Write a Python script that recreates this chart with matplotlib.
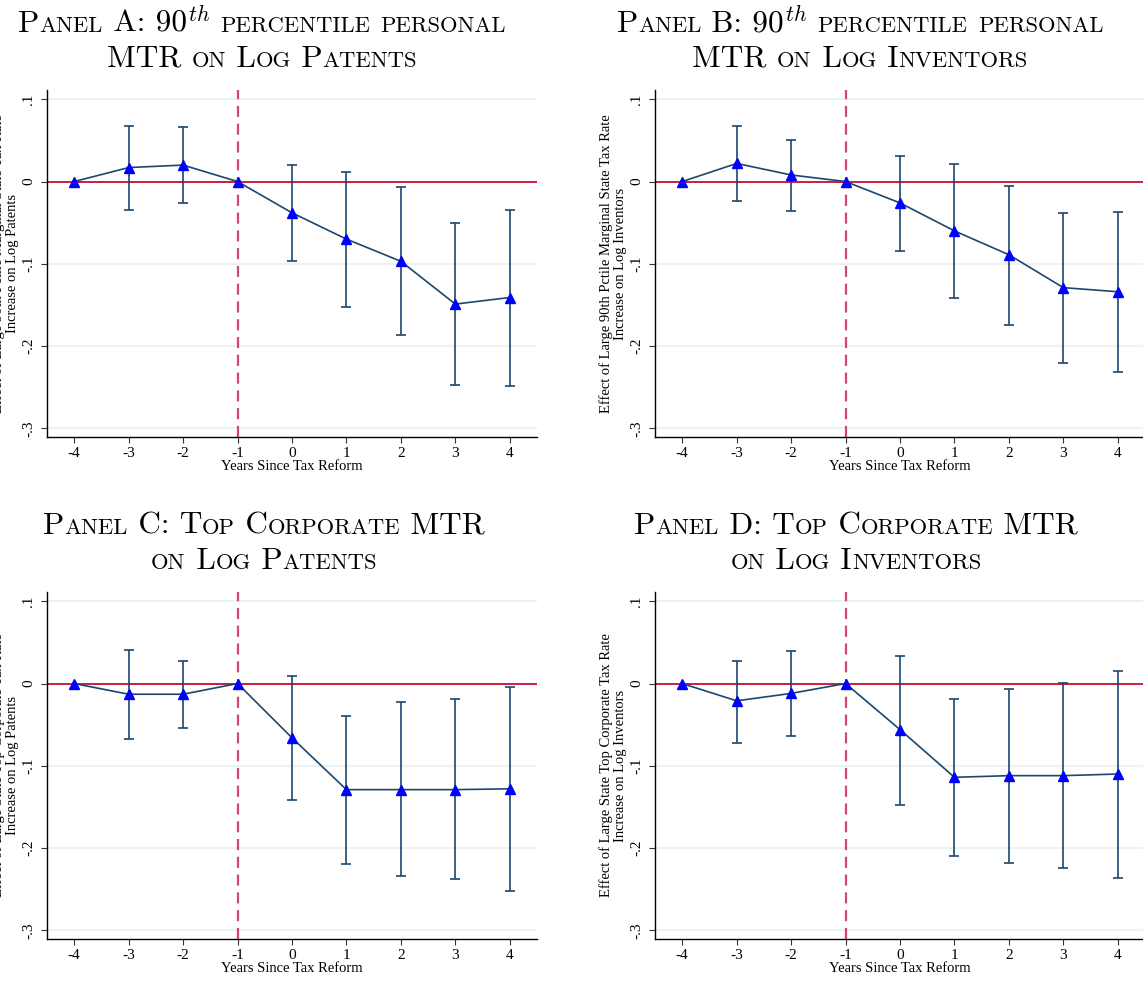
import re
import matplotlib
matplotlib.use("Agg")
import matplotlib.pyplot as plt
from matplotlib.offsetbox import TextArea, HPacker, VPacker, AnnotationBbox

plt.rcParams['font.family'] = ['Liberation Serif', 'DejaVu Serif']
plt.rcParams['mathtext.fontset'] = 'cm'

years = [-4, -3, -2, -1, 0, 1, 2, 3, 4]

# Panel A: 90th pctile personal MTR on log patents
coef_a = [0.0, 0.017, 0.020, 0.0, -0.038, -0.070, -0.097, -0.149, -0.141]
lo_a = [0.0, -0.034, -0.026, 0.0, -0.097, -0.152, -0.187, -0.247, -0.248]
hi_a = [0.0, 0.067, 0.066, 0.0, 0.020, 0.011, -0.007, -0.051, -0.034]

# Panel B: 90th pctile personal MTR on log inventors
coef_b = [0.0, 0.022, 0.008, 0.0, -0.026, -0.060, -0.089, -0.129, -0.134]
lo_b = [0.0, -0.024, -0.036, 0.0, -0.085, -0.141, -0.175, -0.221, -0.231]
hi_b = [0.0, 0.067, 0.051, 0.0, 0.031, 0.021, -0.005, -0.038, -0.037]

# Panel C: top corporate MTR on log patents
coef_c = [0.0, -0.013, -0.013, 0.0, -0.066, -0.129, -0.129, -0.129, -0.128]
lo_c = [0.0, -0.068, -0.054, 0.0, -0.142, -0.219, -0.234, -0.238, -0.252]
hi_c = [0.0, 0.041, 0.028, 0.0, 0.009, -0.040, -0.023, -0.019, -0.004]

# Panel D: top corporate MTR on log inventors
coef_d = [0.0, -0.021, -0.012, 0.0, -0.056, -0.114, -0.112, -0.112, -0.110]
lo_d = [0.0, -0.072, -0.064, 0.0, -0.148, -0.210, -0.218, -0.224, -0.236]
hi_d = [0.0, 0.028, 0.039, 0.0, 0.034, -0.019, -0.007, 0.001, 0.015]

yticks = [0.1, 0.0, -0.1, -0.2, -0.3]
ytick_labels = ['.1', '0', '-.1', '-.2', '-.3']

panels = [
    (coef_a, lo_a, hi_a,
     "Effect of Large 90th Pctile Marginal State Tax Rate\nIncrease on Log Patents",
     ["Panel A: 90$^{th}$ percentile personal", "MTR on Log Patents"]),
    (coef_b, lo_b, hi_b,
     "Effect of Large 90th Pctile Marginal State Tax Rate\nIncrease on Log Inventors",
     ["Panel B: 90$^{th}$ percentile personal", "MTR on Log Inventors"]),
    (coef_c, lo_c, hi_c,
     "Effect of Large State Top Corporate Tax Rate\nIncrease on Log Patents",
     ["Panel C: Top Corporate MTR", "on Log Patents"]),
    (coef_d, lo_d, hi_d,
     "Effect of Large State Top Corporate Tax Rate\nIncrease on Log Inventors",
     ["Panel D: Top Corporate MTR", "on Log Inventors"]),
]

W, H = 1143, 982
fig = plt.figure(figsize=(W / 100, H / 100), dpi=100)

navy = '#1a476f'
big, small = 22.5, 16.3


def small_caps_line(s):
    # fake small caps: lowercase letters become smaller uppercase
    runs = []
    for part in re.split(r'(\$[^$]*\$)', s):
        if not part:
            continue
        if part.startswith('$'):
            runs.append((part, big))
            continue
        for ch in part:
            size = small if ch.islower() else big
            ch = ch.upper()
            if runs and runs[-1][1] == size and not runs[-1][0].startswith('$'):
                runs[-1] = (runs[-1][0] + ch, size)
            else:
                runs.append((ch, size))
    boxes = [TextArea(t, textprops=dict(fontsize=sz, family='cmr10'))
             for t, sz in runs]
    return HPacker(children=boxes, align='baseline', pad=0, sep=0)


lefts = [47, 655, 47, 655]
tops = [90, 90, 592, 592]
title_x = [262, 860, 264, 856]
title_y = [10, 10, 512, 512]

for i, (coef, lo, hi, ylab, title) in enumerate(panels):
    ax = fig.add_axes([lefts[i] / W, 1 - (tops[i] + 347) / H, 490 / W, 347 / H])
    err = [[c - l for c, l in zip(coef, lo)], [h - c for c, h in zip(coef, hi)]]
    ci_years = [y for y, c, l in zip(years, coef, lo) if c != l]
    ci_coef = [c for c, l in zip(coef, lo) if c != l]
    ci_err = [[e for e, c, l in zip(err[0], coef, lo) if c != l],
              [e for e, c, l in zip(err[1], coef, lo) if c != l]]
    for t in yticks:
        ax.axhline(t, color='#eaf2f3', lw=1.5, zorder=0)
    ax.axhline(0, color='#c8102e', lw=1.3, zorder=1)
    ax.axvline(-1, color='#d6476b', lw=1.6, ls=(0, (5, 3)), zorder=1)
    ax.errorbar(ci_years, ci_coef, yerr=ci_err, fmt='none', ecolor=navy,
                elinewidth=1.2, capsize=3.5, capthick=1.2, zorder=2)
    ax.plot(years, coef, color=navy, lw=1.2, zorder=3)
    ax.plot(years, coef, ls='none', marker='^', color='#0000ff', ms=7.5, zorder=4)

    ax.set_xlim(-4.5, 4.5)
    ax.set_ylim(-0.3106, 0.1113)
    ax.set_xticks(years)
    ax.set_xticklabels([str(y) for y in years])
    ax.set_yticks(yticks)
    ax.set_yticklabels(ytick_labels, rotation=90, va='center')
    ax.tick_params(axis='both', direction='out', length=4.5, width=0.8,
                   color='#333333', labelsize=11)
    ax.tick_params(axis='x', pad=3)
    ax.tick_params(axis='y', pad=4)
    for side in ['top', 'right']:
        ax.spines[side].set_visible(False)
    for side in ['left', 'bottom']:
        ax.spines[side].set_linewidth(1.0)
    ax.set_xlabel('Years Since Tax Reform', fontsize=10.5, labelpad=0)
    ax.set_ylabel(ylab, fontsize=10.5, linespacing=1.1)
    ax.yaxis.set_label_coords(-0.057, 0.5)

    lines = [small_caps_line(s) for s in title]
    block = VPacker(children=lines, align='center', pad=0, sep=5)
    ab = AnnotationBbox(block, (title_x[i] / W, 1 - title_y[i] / H),
                        xycoords='figure fraction', box_alignment=(0.5, 1),
                        frameon=False, pad=0)
    fig.add_artist(ab)

fig.savefig('out.png', dpi=100)
